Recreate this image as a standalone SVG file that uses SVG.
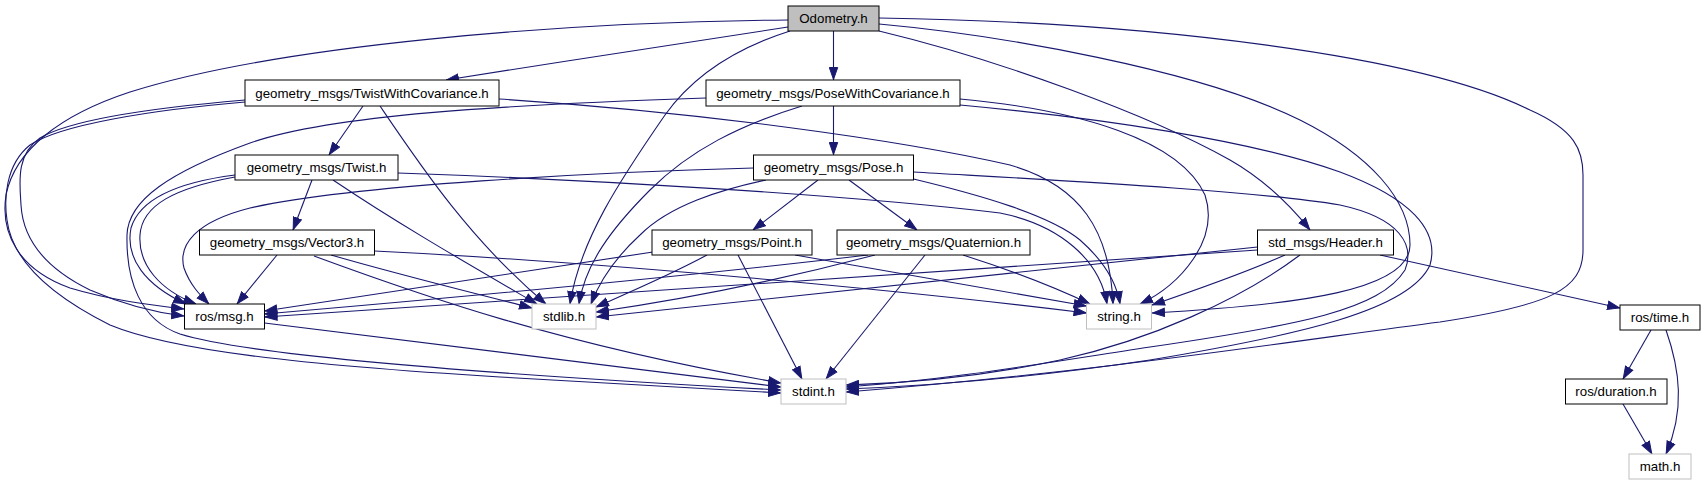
<svg xmlns="http://www.w3.org/2000/svg" width="1704" height="485" viewBox="0 0 1704 485">
<style>
.n rect{fill:#fff;stroke:#000;stroke-width:1}
.n.s rect{stroke:#bfbfbf}
.n.r rect{fill:#bfbfbf}
.n text{font-family:"Liberation Sans",Arial,sans-serif;font-size:13.3px;fill:#000;text-anchor:middle}
#edges path{fill:none;stroke:#191970;stroke-width:1.1;marker-end:url(#a)}
</style>
<defs>
<marker id="a" markerWidth="13" markerHeight="10" refX="13" refY="5" orient="auto" markerUnits="userSpaceOnUse"><path d="M0.5,0.8 L12.5,5 L0.5,9.2 z" fill="#191970" stroke="#191970" stroke-width="1"/></marker>
</defs>
<rect width="1704" height="485" fill="#fff"/>
<g id="edges">
<path d="M833.5,31 L833.5,80"/>
<path d="M833.5,106 L833.5,155"/>
<path d="M788,27 C700,40 560,62 446,80"/>
<path d="M788,20 C560,22 280,45 130,92 C60,115 15,150 6,195 C0,235 20,270 70,288 C110,300 150,305 184,309"/>
<path d="M245,100 C150,108 70,120 40,138 C15,155 20,185 21,205 C23,240 45,268 90,290 C120,303 150,312 184,316"/>
<path d="M245,102 C150,110 60,125 30,145 C5,165 4,200 7,220 C12,260 50,295 110,325 C170,350 300,365 500,377 C640,385 730,390 781,393"/>
<path d="M235,175 C180,182 140,198 131,228 C125,258 145,285 186,304"/>
<path d="M235,177 C175,188 142,205 140,235 C138,265 160,290 196,304"/>
<path d="M706,98 C500,105 330,115 250,143 C170,172 128,200 127,235 C126,280 140,320 180,334 C250,356 500,375 781,390"/>
<path d="M753.5,168 C600,172 350,185 250,208 C195,222 178,245 184,268 C190,285 200,295 209,304"/>
<path d="M277,255 L237,304"/>
<path d="M653,252 C500,275 350,298 264.5,311"/>
<path d="M868,255 C700,275 450,298 264.5,314"/>
<path d="M1257.5,250 L264.5,317"/>
<path d="M380,106 C420,165 470,240 546,304"/>
<path d="M333,180 C400,225 470,265 537,304"/>
<path d="M331,255 C400,275 470,292 532,308"/>
<path d="M790,31 C730,50 690,80 665,115 C620,180 580,240 570,304"/>
<path d="M802,106 C740,125 690,150 650,190 C610,230 585,265 579,304"/>
<path d="M766,180 C720,190 670,205 640,235 C615,258 600,280 591,304"/>
<path d="M707,255 C670,275 630,292 596,307"/>
<path d="M875,255 C780,280 680,300 596,312"/>
<path d="M1257.5,247 L596,317"/>
<path d="M499,99 C700,112 900,140 1010,165 C1080,185 1110,230 1113,304"/>
<path d="M398,173 C600,180 850,195 1000,213 C1060,225 1100,260 1107,304"/>
<path d="M913.5,179 C980,195 1050,215 1080,240 C1105,262 1117,285 1120,304"/>
<path d="M960,99 C1080,110 1180,140 1205,195 C1220,240 1180,285 1140,304"/>
<path d="M795,255 L1086.5,306"/>
<path d="M374.5,251 C600,262 900,290 1086.5,313"/>
<path d="M963,255 C1010,270 1050,285 1090,304"/>
<path d="M1285,255 C1240,275 1190,292 1152,305"/>
<path d="M879,24 C1000,35 1200,70 1300,120 C1370,155 1410,200 1410,245 C1410,290 1300,305 1152,313"/>
<path d="M879,18 C1150,22 1420,55 1530,110 C1575,130 1583,150 1583,175 L1583,250 C1583,290 1550,305 1440,322 C1300,340 1100,372 846,392"/>
<path d="M879,31 C1000,60 1150,115 1230,160 C1265,180 1290,205 1310,230"/>
<path d="M960,105 C1100,118 1250,140 1340,172 C1410,198 1440,230 1430,265 C1410,310 1300,335 1150,360 C1050,375 950,385 846,389"/>
<path d="M913.5,172 C1050,180 1250,190 1340,205 C1400,218 1415,245 1405,270 C1380,310 1300,325 1150,347 C1050,362 950,380 846,387"/>
<path d="M1300,255 C1240,300 1150,340 1060,360 C990,375 920,383 846,385"/>
<path d="M1380,255 L1620,308"/>
<path d="M1651,330 L1623,379"/>
<path d="M1666,330 C1680,370 1685,410 1666,454"/>
<path d="M1623,404 L1652,454"/>
<path d="M264.5,323 L781,387"/>
<path d="M314,256 C420,295 560,345 781,383"/>
<path d="M738,255 L802,379"/>
<path d="M925,255 L826,379"/>
<path d="M818,180 L753,230"/>
<path d="M849,180 L917,230"/>
<path d="M363,106 L329,155"/>
<path d="M312,180 L293,230"/>
</g>
<g id="odometry" class="n r"><rect x="788" y="6" width="91" height="25"/><text x="833.5" y="23">Odometry.h</text></g>
<g id="twistwithcov" class="n"><rect x="245" y="80" width="254" height="26"/><text x="372" y="97.5">geometry_msgs/TwistWithCovariance.h</text></g>
<g id="posewithcov" class="n"><rect x="706" y="80" width="254" height="26"/><text x="833" y="97.5">geometry_msgs/PoseWithCovariance.h</text></g>
<g id="twist" class="n"><rect x="235" y="155" width="163" height="25"/><text x="316.5" y="172">geometry_msgs/Twist.h</text></g>
<g id="pose" class="n"><rect x="753.5" y="155" width="160" height="25"/><text x="833.5" y="172">geometry_msgs/Pose.h</text></g>
<g id="vector3" class="n"><rect x="199.5" y="230" width="175" height="25"/><text x="287" y="247">geometry_msgs/Vector3.h</text></g>
<g id="point" class="n"><rect x="652" y="230" width="160" height="25"/><text x="732" y="247">geometry_msgs/Point.h</text></g>
<g id="quaternion" class="n"><rect x="837" y="230" width="193" height="25"/><text x="933.5" y="247">geometry_msgs/Quaternion.h</text></g>
<g id="header" class="n"><rect x="1257.5" y="230" width="136" height="25"/><text x="1325.5" y="247">std_msgs/Header.h</text></g>
<g id="rosmsg" class="n"><rect x="184.5" y="304" width="80" height="25"/><text x="224.5" y="321">ros/msg.h</text></g>
<g id="stdlib" class="n s"><rect x="532" y="304" width="64" height="25"/><text x="564" y="321">stdlib.h</text></g>
<g id="string" class="n s"><rect x="1086.5" y="304" width="65" height="25"/><text x="1119" y="321">string.h</text></g>
<g id="rostime" class="n"><rect x="1620" y="305" width="80" height="25"/><text x="1660" y="322">ros/time.h</text></g>
<g id="stdint" class="n s"><rect x="781" y="379" width="65" height="25"/><text x="813.5" y="396">stdint.h</text></g>
<g id="duration" class="n"><rect x="1565.5" y="379" width="101.5" height="25"/><text x="1616" y="396">ros/duration.h</text></g>
<g id="math" class="n s"><rect x="1629" y="454" width="62" height="25"/><text x="1660" y="471">math.h</text></g>
</svg>
